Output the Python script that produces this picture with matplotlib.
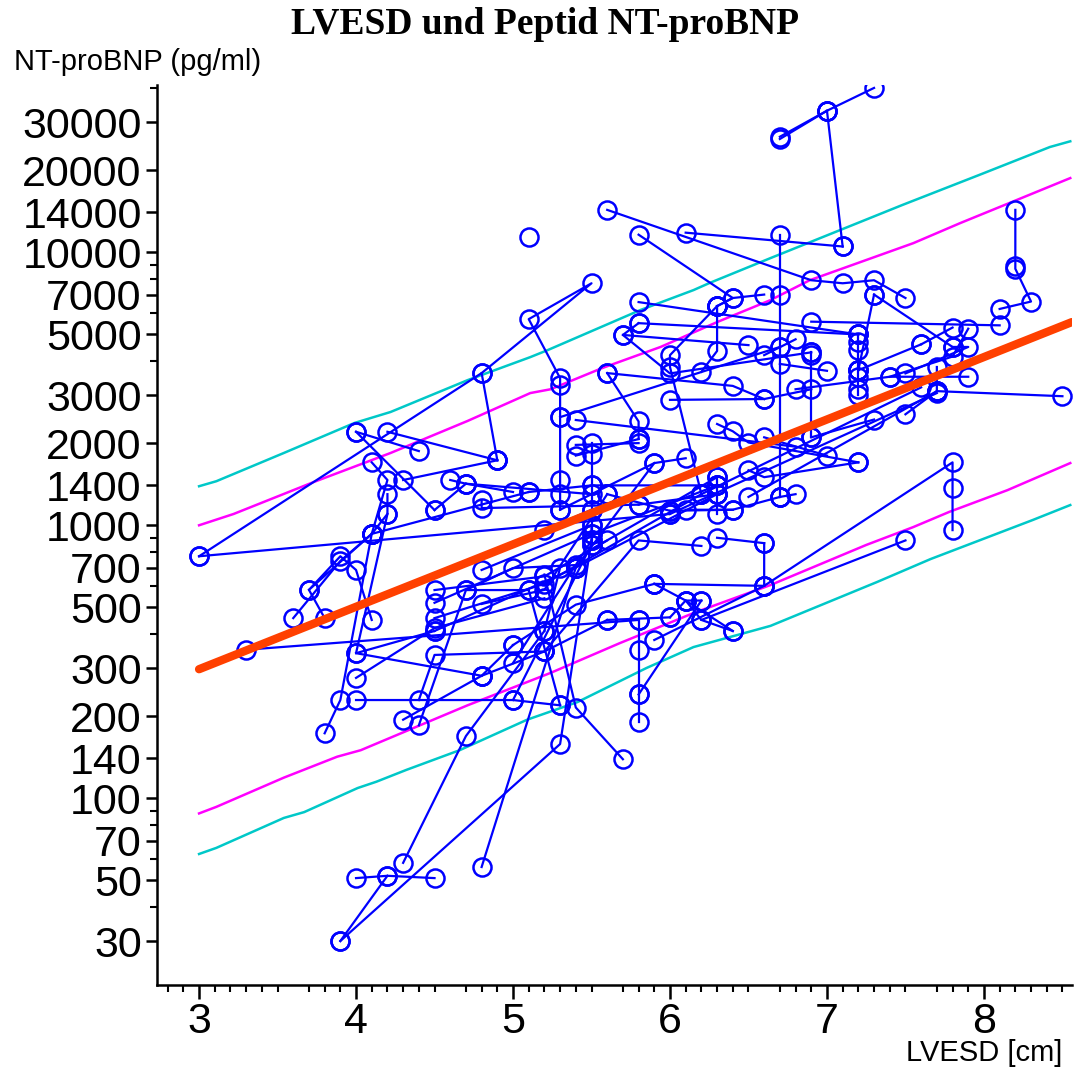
import matplotlib
matplotlib.use("Agg")
import matplotlib.pyplot as plt
from matplotlib.ticker import FixedLocator, NullFormatter

plt.rcParams['font.family'] = ['Liberation Sans', 'DejaVu Sans']

# ---------------- data ----------------
title = "LVESD und Peptid NT-proBNP"
ylabel = "NT-proBNP (pg/ml)"
xlabel = "LVESD [cm]"
y_ticks = [30, 50, 70, 100, 140, 200, 300, 500, 700, 1000, 1400, 2000, 3000,
           5000, 7000, 10000, 14000, 20000, 30000]
x_ticks = [3, 4, 5, 6, 7, 8]

# regression line (orange)
reg_x = [3.0, 8.56]
reg_y = [297, 5550]

# upper / lower limits (magenta)
mag_up_x = [3.0, 3.22, 3.73, 4.22, 4.71, 5.11, 5.24, 5.57, 5.94, 6.30, 6.64, 6.89, 7.55, 7.85, 8.18, 8.55]
mag_up_y = [1000, 1100, 1440, 1840, 2410, 3050, 3150, 3770, 4500, 5550, 6680, 7900, 10800, 12800, 15300, 18700]
mag_lo_x = [3.0, 3.11, 3.54, 3.88, 4.03, 4.71, 5.24, 5.68, 6.15, 6.64, 7.25, 7.55, 7.78, 8.15, 8.55]
mag_lo_y = [88, 93, 119, 142, 150, 219, 288, 370, 477, 604, 847, 985, 1120, 1345, 1690]

# upper / lower limits (cyan)
cyan_up_x = [3.0, 3.11, 3.54, 3.99, 4.22, 4.71, 5.11, 5.22, 5.81, 6.15, 6.25, 6.64, 7.21, 7.48, 7.97, 8.42, 8.55]
cyan_up_y = [1390, 1450, 1840, 2370, 2600, 3400, 4130, 4380, 6140, 7270, 7710, 9520, 12900, 14900, 19200, 24300, 25500]
cyan_lo_x = [3.0, 3.11, 3.54, 3.67, 4.01, 4.13, 4.32, 4.66, 5.09, 5.41, 5.85, 6.15, 6.64, 7.32, 7.66, 8.31, 8.55]
cyan_lo_y = [62.5, 65.8, 84.7, 89, 109, 115, 127, 150, 194, 225, 300, 358, 428, 620, 752, 1045, 1186]

# patient trajectories: (LVESD values, NT-proBNP values)
patients = [
    ([6.7, 7.0, 7.3], [26000, 33000, 40000]),
    ([6.7, 7.0], [26500, 33000]),
    ([7.0, 7.1], [33000, 10500]),
    ([6.1, 7.1], [11800, 10500]),
    ([6.7, 6.7, 6.7, 6.7], [11600, 7000, 4500, 1270]),
    ([5.6, 6.9, 7.1, 7.3, 7.5], [14300, 7900, 7700, 7900, 6800]),
    ([5.8, 6.4, 6.3], [11600, 6800, 6350]),
    ([5.1], [11400]),
    ([8.2, 8.2, 8.3, 8.1], [14300, 8700, 6600, 6200]),
    ([8.2], [8900]),
    ([7.3, 7.2], [7000, 3700]),
    ([7.3, 7.8], [7000, 4500]),
    ([6.9, 8.1], [5570, 5400]),
    ([5.8, 7.2], [6570, 5000]),
    ([7.2, 7.2, 7.2, 7.2, 7.2, 7.2, 7.2], [5000, 4700, 4400, 3700, 3500, 3150, 3000]),
    ([7.6, 7.2], [4600, 3700]),
    ([7.8, 7.6], [5300, 4600]),
    ([7.9, 7.8, 7.4], [5250, 4150, 3500]),
    ([7.8, 7.9, 7.5], [4500, 4500, 3600]),
    ([7.7, 7.7, 8.5], [3800, 3100, 2970]),
    ([7.5, 7.7], [2550, 3100]),
    ([7.9, 7.4, 6.8], [3500, 3500, 3150]),
    ([6.9, 6.9, 6.9], [4300, 4200, 2100]),
    ([6.8, 6.6], [4800, 4200]),
    ([7.3, 6.9], [2440, 2100]),
    ([7.0, 6.7], [3680, 3900]),
    ([7.0, 6.6], [1800, 2100]),
    ([6.8, 6.7], [1300, 1270]),
    ([6.5, 7.7], [1270, 3100]),
    ([6.0, 7.7], [1100, 3050]),
    ([6.2, 7.6], [1300, 3200]),
    ([3.0, 4.8, 4.9], [770, 3610, 1730]),
    ([4.8, 5.5, 5.1, 5.3, 5.3, 5.3, 5.3, 5.3, 5.3], [3610, 7700, 5690, 3460, 3260, 2490, 1465, 1300, 1140]),
    ([3.0, 6.0], [770, 1100]),
    ([3.3, 5.8], [350, 450]),
    ([4.0, 4.4], [2200, 1870]),
    ([4.2, 4.9], [2200, 1730]),
    ([4.0, 4.5], [2200, 1137]),
    ([4.1, 4.2, 4.1], [1700, 1465, 930]),
    ([4.2, 4.2, 4.1, 5.1], [1300, 1100, 930, 1324]),
    ([4.3, 4.9], [1465, 1730]),
    ([4.6, 4.7, 5.5], [1465, 1420, 1300]),
    ([4.5, 4.7], [1137, 1420]),
    ([4.8, 4.8, 5.8], [1237, 1156, 1190]),
    ([4.1, 3.7, 3.9, 4.0, 4.1], [930, 580, 770, 686, 450]),
    ([3.6, 3.9, 4.1], [457, 740, 930]),
    ([3.8, 3.7], [457, 580]),
    ([4.2, 4.0, 4.8], [1100, 340, 281]),
    ([4.0, 4.5], [340, 410]),
    ([4.0, 4.5, 5.2], [276, 420, 540]),
    ([3.8, 3.9, 4.1], [173, 229, 930]),
    ([4.0, 5.0, 5.3], [229, 229, 219]),
    ([4.4, 4.5, 5.2], [229, 335, 345]),
    ([4.3, 4.8, 5.0], [194, 281, 364]),
    ([4.4, 4.7, 5.1], [185, 579, 579]),
    ([4.0, 4.2, 4.5], [51, 52, 51]),
    ([3.9, 4.2], [30, 52]),
    ([3.9, 5.3, 5.5], [30, 158, 880]),
    ([4.3, 4.7, 5.2], [58, 169, 410]),
    ([4.8, 5.4], [56, 700]),
    ([5.7, 5.4, 5.2], [139, 215, 660]),
    ([5.8, 5.8, 5.8, 5.8], [450, 350, 240, 190]),
    ([5.6, 6.0], [450, 460]),
    ([6.6, 6.6, 7.8, 7.8, 7.8], [860, 600, 1700, 1370, 960]),
    ([7.5, 6.2, 6.1], [880, 450, 530]),
    ([6.4, 6.2], [410, 450]),
    ([5.9, 6.6], [610, 600]),
    ([5.9, 6.1, 6.2], [610, 530, 530]),
    ([6.6, 5.9], [600, 380]),
    ([6.2, 5.8], [530, 240]),
    ([5.8, 7.2], [5500, 5000]),
    ([5.7, 6.5], [4980, 4570]),
    ([5.8, 5.7, 6.0, 6.9], [5500, 4980, 3600, 4300]),
    ([6.3, 6.4, 6.6], [6350, 6800, 7000]),
    ([6.3, 6.3, 6.2], [6350, 4350, 3650]),
    ([6.3, 6.0, 6.0, 6.2], [6350, 4200, 3800, 1300]),
    ([5.6, 6.4, 6.6], [3610, 3240, 2900]),
    ([5.6, 5.8, 5.8], [3610, 2400, 2070]),
    ([5.3, 6.7], [2490, 4500]),
    ([5.4, 6.8], [2430, 1940]),
    ([5.4, 5.8], [1970, 2000]),
    ([5.5, 5.5, 5.5, 5.5, 5.5, 5.5], [2010, 1820, 1400, 1140, 930, 850]),
    ([5.4, 5.8], [1800, 2070]),
    ([6.0, 6.6, 6.9], [2880, 2900, 3150]),
    ([6.3, 6.4, 6.5, 7.2], [2350, 2210, 2010, 1700]),
    ([6.1, 5.9, 5.4], [1760, 1690, 700]),
    ([6.5, 6.6, 7.2], [1590, 1500, 1700]),
    ([6.3, 6.3, 6.3, 6.3], [1500, 1400, 1300, 1100]),
    ([4.5, 5.2, 6.3], [579, 650, 1500]),
    ([4.5, 5.5, 6.3], [520, 930, 1400]),
    ([4.5, 5.2, 6.2], [457, 610, 1300]),
    ([4.5, 5.4, 6.3], [410, 700, 1300]),
    ([4.7, 5.0, 5.4], [579, 697, 715]),
    ([4.8, 5.5], [686, 1000]),
    ([4.8, 5.2, 5.6], [515, 580, 1300]),
    ([5.0, 5.4, 5.9], [364, 512, 610]),
    ([5.0, 5.5, 5.5], [313, 880, 1000]),
    ([5.2, 5.3, 5.6], [410, 700, 880]),
    ([5.2, 5.8, 6.2], [345, 880, 840]),
    ([5.0, 5.5], [229, 850]),
    ([5.3, 5.1], [219, 579]),
    ([5.2, 5.5], [960, 1140]),
    ([5.1, 5.5, 6.3], [1324, 1400, 1400]),
    ([5.3, 5.9], [1140, 1690]),
    ([6.0, 6.4], [1130, 1140]),
    ([6.1, 6.4, 6.7], [1140, 1140, 1270]),
    ([6.3, 6.6], [900, 860]),
    ([6.0, 6.1, 6.4], [460, 530, 410]),
    ([4.8, 5.2, 5.6], [281, 345, 450]),
    ([4.7, 5.0], [1420, 1324]),
    ([5.6, 6.0], [1300, 1130]),
    ([5.8, 6.3], [1190, 1300]),
]

# ---------------- figure ----------------
fig = plt.figure(figsize=(10.75, 10.68), dpi=100)
ax = fig.add_axes([157 / 1075, 83 / 1068, (1072 - 157) / 1075, (985 - 85) / 1068])
ax.set_yscale('log')
ax.set_xlim(2.732, 8.561)
ax.set_ylim(20.7, 41000)

for xs, ys in patients:
    ax.plot(xs, ys, color='#0000FF', lw=1.6, marker='o', ms=13,
            mfc='none', mec='#0000FF', mew=1.8, zorder=3)

ax.plot(cyan_up_x, cyan_up_y, color='#00C8C8', lw=1.8, zorder=2)
ax.plot(cyan_lo_x, cyan_lo_y, color='#00C8C8', lw=1.8, zorder=2)
ax.plot(mag_up_x, mag_up_y, color='#FF00FF', lw=1.8, zorder=2)
ax.plot(mag_lo_x, mag_lo_y, color='#FF00FF', lw=1.8, zorder=2)
ax.plot(reg_x, reg_y, color='#FF4000', lw=6, solid_capstyle='round', zorder=4)

for s in ['top', 'right']:
    ax.spines[s].set_visible(False)
for s in ['left', 'bottom']:
    ax.spines[s].set_linewidth(1.8)

ax.yaxis.set_major_locator(FixedLocator(y_ticks))
ax.set_yticklabels([str(v) for v in y_ticks])
minor_y = [v * 10 ** d for d in range(1, 5) for v in range(2, 10)]
minor_y = [v for v in minor_y if v not in y_ticks and 20.7 <= v <= 41000]
ax.yaxis.set_minor_locator(FixedLocator(minor_y))
ax.yaxis.set_minor_formatter(NullFormatter())
ax.xaxis.set_major_locator(FixedLocator(x_ticks))
ax.xaxis.set_minor_locator(FixedLocator([2.8 + 0.1 * i for i in range(58) if (i + 2) % 10 != 0]))
ax.tick_params(axis='y', which='major', direction='out', length=8, width=1.8,
               labelsize=31, pad=3)
ax.tick_params(axis='x', which='major', direction='out', length=10, width=1.8,
               labelsize=31, pad=2)
ax.tick_params(axis='both', which='minor', direction='out', length=5, width=1.5)

fig.text(0.507, 1 - 24 / 1068, title, ha='center', va='center', fontsize=27,
         fontweight='bold', family='Liberation Serif')
fig.text(14 / 1075, 1 - 62 / 1068, ylabel, ha='left', va='center', fontsize=21)
fig.text(1062 / 1075, 1 - 1053 / 1068, xlabel, ha='right', va='center', fontsize=21)

fig.savefig('out.png', dpi=100)
